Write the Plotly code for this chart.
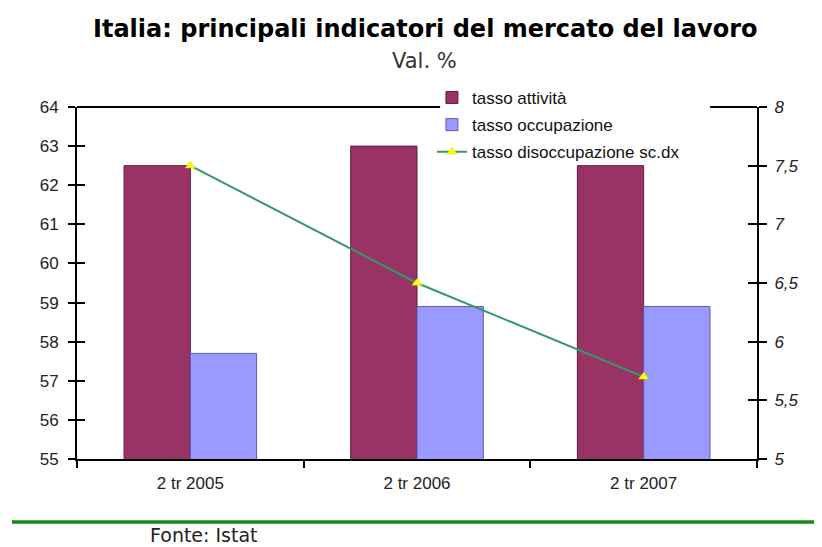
import plotly.graph_objects as go

categories = ["2 tr 2005", "2 tr 2006", "2 tr 2007"]
tasso_attivita = [62.5, 63.0, 62.5]
tasso_occupazione = [57.7, 58.9, 58.9]
tasso_disoccupazione = [7.5, 6.5, 5.7]
left_ticks = [55, 56, 57, 58, 59, 60, 61, 62, 63, 64]
right_ticks = [5, 5.5, 6, 6.5, 7, 7.5, 8]
right_labels = ["5", "5,5", "6", "6,5", "7", "7,5", "8"]

fig = go.Figure()
fig.add_trace(go.Bar(x=categories, y=tasso_attivita, name="tasso attività",
                     marker=dict(color="#993366", line=dict(color="#5a1f3c", width=1)),
                     legendgroup="a"))
fig.add_trace(go.Bar(x=categories, y=tasso_occupazione, name="tasso occupazione",
                     marker=dict(color="#9999FF", line=dict(color="#5c5cae", width=1)),
                     legendgroup="b"))
fig.add_trace(go.Scatter(x=categories, y=tasso_disoccupazione, name="tasso disoccupazione sc.dx",
                         yaxis="y2", mode="lines+markers",
                         line=dict(color="#339966", width=2),
                         marker=dict(symbol="triangle-up", color="#FFFF00", size=9,
                                     line=dict(color="#d4d400", width=0.5)),
                         legendgroup="c"))
# invisible helper traces so the inner tick axes render
fig.add_trace(go.Scatter(x=categories, y=tasso_attivita, yaxis="y3", mode="none",
                         showlegend=False, hoverinfo="skip"))
fig.add_trace(go.Scatter(x=categories, y=tasso_disoccupazione, yaxis="y4", mode="none",
                         showlegend=False, hoverinfo="skip"))

tickfont = dict(family="Liberation Sans, Arial", size=17, color="#222222")

fig.update_layout(
    width=822, height=547,
    margin=dict(l=69, r=73, t=99, b=96),
    paper_bgcolor="white", plot_bgcolor="white",
    barmode="group", bargap=0.415, bargroupgap=0,
    showlegend=True,
    legend=dict(x=0.522, y=1.0767, xanchor="left", yanchor="top",
                bgcolor="rgba(255,255,255,0)", borderwidth=0,
                font=dict(family="Liberation Sans, Arial", size=17, color="#111111"),
                tracegroupgap=2, itemwidth=30),
    xaxis=dict(showline=True, linecolor="black", linewidth=2, mirror=False,
               ticks="outside", tickson="boundaries", ticklen=7, tickcolor="black",
               tickwidth=1.5, tickfont=tickfont, ticklabelstandoff=8,
               showgrid=False, zeroline=False),
    yaxis=dict(range=[55, 64], tickvals=left_ticks, showline=True, linecolor="black",
               linewidth=2, ticks="outside", ticklen=7, tickwidth=2, tickcolor="black",
               tickfont=tickfont, showgrid=False, zeroline=False, ticklabelstandoff=6),
    yaxis2=dict(range=[5, 8], tickvals=right_ticks, ticktext=right_labels,
                overlaying="y", side="right", showline=True, linecolor="black",
                linewidth=2, ticks="outside", ticklen=8, tickwidth=2, tickcolor="black",
                tickfont=dict(family="Liberation Sans, Arial", size=17, color="#222222",
                              style="italic"),
                showgrid=False, zeroline=False, ticklabelstandoff=4),
    yaxis3=dict(range=[55, 64], tickvals=left_ticks, overlaying="y", side="left",
                ticks="inside", ticklen=8, tickwidth=2, tickcolor="black",
                showticklabels=False, showline=False, showgrid=False, zeroline=False),
    yaxis4=dict(range=[5, 8], tickvals=right_ticks, overlaying="y", side="right",
                ticks="inside", ticklen=9, tickwidth=2, tickcolor="black",
                showticklabels=False, showline=False, showgrid=False, zeroline=False),
    annotations=[
        dict(text="<b>Italia: principali indicatori del mercato del lavoro</b>",
             xref="paper", yref="paper", x=0.512, y=1.2216, xanchor="center",
             yanchor="middle", showarrow=False,
             font=dict(family="DejaVu Sans", size=24, color="black")),
        dict(text="Val. %", xref="paper", yref="paper", x=0.511, y=1.1307,
             xanchor="center", yanchor="middle", showarrow=False,
             font=dict(family="DejaVu Sans", size=21, color="#333333")),
        dict(text="Fonte: Istat", xref="paper", yref="paper", x=0.104, y=-0.2159,
             xanchor="left", yanchor="middle", showarrow=False,
             font=dict(family="DejaVu Sans", size=19, color="#222222")),
    ],
    shapes=[
        # top frame of the plot area, interrupted where the legend sits
        dict(type="line", xref="paper", yref="paper", x0=0, x1=0.534,
             y0=1, y1=1, line=dict(color="black", width=2)),
        dict(type="line", xref="paper", yref="paper", x0=0.931, x1=1,
             y0=1, y1=1, line=dict(color="black", width=2)),
        # green separator under the chart
        dict(type="line", xref="paper", yref="paper", x0=-0.0956, x1=1.0926,
             y0=-0.179, y1=-0.179, line=dict(color="#168a16", width=3.5)),
    ],
)

fig.write_html("out.html")
